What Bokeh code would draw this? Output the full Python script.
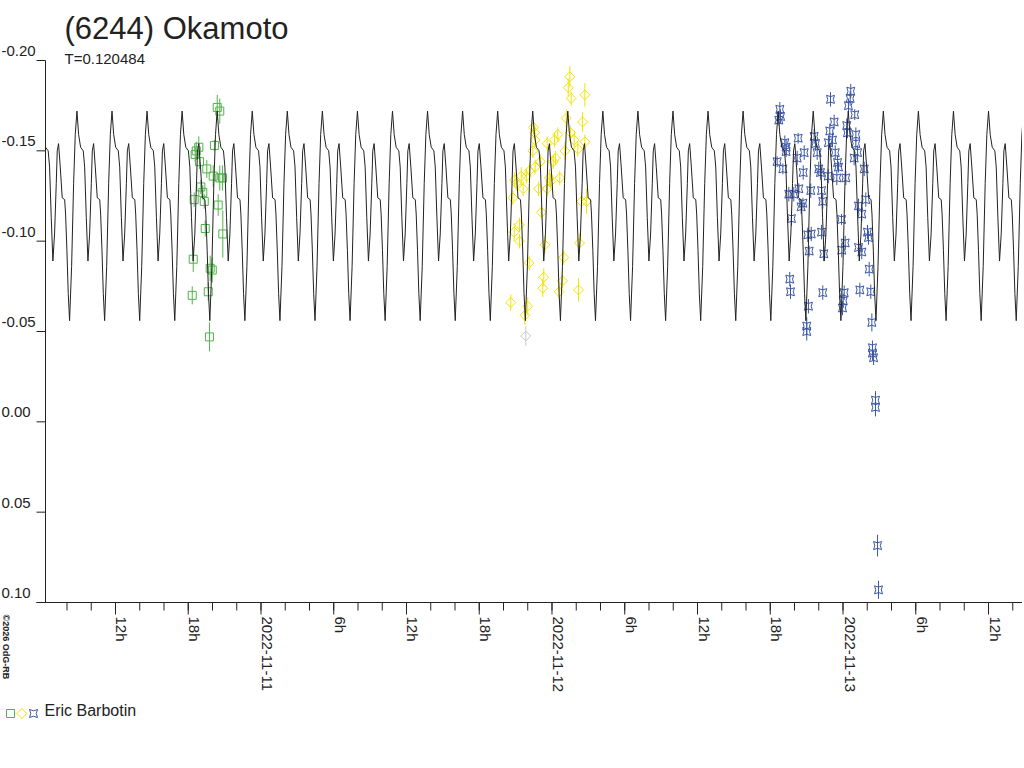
import math
import numpy as np
from bokeh.plotting import figure
from bokeh.models import Range1d, Label
from bokeh.embed import file_html
from bokeh.resources import INLINE

# times: hours since 2022-11-10 00:00 UT, values: relative magnitude
period_days = 0.120484
epoch_h = 8.82          # a main maximum of the model
t_left, t_right = 6.227, 86.804
mag_top, mag_bottom = -0.20, 0.10

# one cycle of the model lightcurve (phase, mag)
model_phase = [0.000, 0.048, 0.105, 0.180, 0.220, 0.267, 0.314, 0.362, 0.410, 0.438,
               0.476, 0.524, 0.580, 0.650, 0.676, 0.714, 0.752, 0.790, 0.848, 0.905, 0.952]
model_mag = [-0.172, -0.159, -0.152, -0.150, -0.141, -0.113, -0.089, -0.104, -0.132, -0.150,
             -0.154, -0.141, -0.124, -0.123, -0.115, -0.095, -0.071, -0.056, -0.086, -0.132, -0.159]

# night 1
green_t = [20.39, 20.60, 18.87, 18.66, 18.57, 20.16, 18.93, 19.53, 20.06, 20.60, 20.82, 19.04,
           19.20, 18.49, 19.32, 20.47, 19.40, 20.85, 18.41, 19.81, 19.98, 19.65, 18.33, 19.75]
green_mag = [-0.174, -0.172, -0.152, -0.150, -0.148, -0.153, -0.144, -0.140, -0.136, -0.135, -0.135, -0.130,
             -0.127, -0.123, -0.122, -0.120, -0.107, -0.104, -0.090, -0.085, -0.084, -0.072, -0.070, -0.047]
green_err = [0.007, 0.007, 0.006, 0.005, 0.004, 0.003, 0.004, 0.005, 0.006, 0.007, 0.007, 0.004,
             0.004, 0.004, 0.004, 0.006, 0.0045, 0.013, 0.007, 0.007, 0.007, 0.005, 0.005, 0.008]

# night 2
yellow_t = [49.47, 49.34, 49.58, 50.71, 49.17, 50.52, 46.47, 46.58, 49.53, 48.48, 46.61, 47.60, 48.21,
            49.83, 50.13, 50.71, 49.06, 46.42, 48.29, 48.10, 47.05, 46.61, 46.14, 45.90, 45.46, 44.93,
            47.79, 48.64, 47.88, 45.05, 45.62, 46.89, 47.60, 44.77, 50.43, 50.85, 47.13, 45.32, 44.88,
            45.32, 47.41, 50.27, 46.12, 48.97, 47.32, 48.87, 47.24, 50.19, 48.59, 44.60, 46.00, 45.76]
yellow_mag = [-0.191, -0.185, -0.179, -0.181, -0.168, -0.166, -0.163, -0.160, -0.160, -0.159, -0.156, -0.154, -0.156,
              -0.156, -0.151, -0.155, -0.150, -0.150, -0.146, -0.144, -0.144, -0.141, -0.139, -0.136, -0.136, -0.134,
              -0.135, -0.135, -0.133, -0.132, -0.129, -0.129, -0.129, -0.124, -0.122, -0.122, -0.116, -0.109, -0.105,
              -0.100, -0.098, -0.099, -0.088, -0.091, -0.080, -0.078, -0.074, -0.073, -0.072, -0.066, -0.064, -0.059]
yellow_err = [0.006, 0.005, 0.004, 0.0065, 0.005, 0.0055, 0.004, 0.004, 0.004, 0.004, 0.004, 0.004, 0.004,
              0.005, 0.004, 0.004, 0.005, 0.004, 0.004, 0.004, 0.004, 0.004, 0.004, 0.004, 0.005, 0.004,
              0.005, 0.004, 0.004, 0.004, 0.004, 0.004, 0.004, 0.004, 0.005, 0.007, 0.004, 0.004, 0.005,
              0.004, 0.005, 0.0055, 0.004, 0.004, 0.005, 0.004, 0.005, 0.0065, 0.004, 0.0045, 0.005, 0.0055]

# rejected point of night 2
grey_t = [45.84]
grey_mag = [-0.0475]
grey_err = [0.0055]

# night 3
blue_t = [66.79, 66.85, 66.71, 67.20, 67.31, 68.30, 69.62, 69.73, 67.31, 68.80,
          66.57, 68.22, 69.87, 67.04, 68.72, 70.00, 70.14, 68.36, 67.53, 67.94,
          69.34, 70.23, 68.69, 68.55, 70.33, 67.75, 69.10, 69.38, 70.23, 69.21,
          70.42, 67.61, 67.67, 70.33, 69.15, 69.01, 69.01,
          72.64, 70.97, 72.59, 72.45, 72.97, 71.27, 70.91, 72.31, 72.37, 73.06,
          70.80, 71.13, 73.06, 71.36, 73.20, 72.92, 71.55, 71.63, 73.75, 70.78,
          71.49, 72.23, 73.88, 73.28, 73.55, 71.88, 74.02, 74.10, 72.18, 73.28,
          71.90, 73.55, 74.16, 72.10, 73.39, 74.29, 72.02, 71.96, 74.38, 74.43,
          74.43, 74.52, 74.68, 74.68, 74.85, 74.93]
blue_mag = [-0.173, -0.169, -0.167, -0.1545, -0.152, -0.157, -0.158, -0.154, -0.1496, -0.149,
            -0.144, -0.146, -0.149, -0.140, -0.138, -0.140, -0.138, -0.129, -0.126, -0.126,
            -0.128, -0.128, -0.121, -0.119, -0.122, -0.1125, -0.1035, -0.104, -0.105, -0.0945,
            -0.093, -0.079, -0.072, -0.0715, -0.064, -0.053, -0.050,
            -0.183, -0.1785, -0.179, -0.175, -0.170, -0.166, -0.161, -0.164, -0.160, -0.159,
            -0.1545, -0.156, -0.154, -0.149, -0.149, -0.146, -0.1435, -0.141, -0.140, -0.136,
            -0.135, -0.135, -0.123, -0.1195, -0.115, -0.112, -0.105, -0.102, -0.099, -0.0965,
            -0.095, -0.094, -0.0845, -0.0715, -0.073, -0.072, -0.067, -0.063, -0.055, -0.041,
            -0.038, -0.0355, -0.012, -0.008, 0.0685, 0.093]
blue_err = [0.004, 0.004, 0.003, 0.004, 0.004, 0.003, 0.004, 0.004, 0.003, 0.004,
            0.003, 0.004, 0.004, 0.003, 0.004, 0.004, 0.004, 0.003, 0.004, 0.004,
            0.004, 0.004, 0.003, 0.004, 0.004, 0.004, 0.004, 0.004, 0.004, 0.003,
            0.004, 0.004, 0.004, 0.004, 0.004, 0.005, 0.005,
            0.004, 0.004, 0.004, 0.004, 0.003, 0.004, 0.004, 0.004, 0.003, 0.004,
            0.004, 0.004, 0.003, 0.004, 0.004, 0.004, 0.004, 0.003, 0.004, 0.004,
            0.004, 0.004, 0.004, 0.004, 0.004, 0.003, 0.004, 0.004, 0.004, 0.004,
            0.004, 0.004, 0.004, 0.004, 0.004, 0.004, 0.004, 0.004, 0.005, 0.004,
            0.004, 0.004, 0.005, 0.005, 0.006, 0.005]

x_ticks = [12, 18, 24, 30, 36, 42, 48, 54, 60, 66, 72, 78, 84]
x_tick_labels = ["12h", "18h", "2022-11-11", "6h", "12h", "18h", "2022-11-12",
                 "6h", "12h", "18h", "2022-11-13", "6h", "12h"]
x_minor = list(range(8, 88, 2))
y_ticks = [-0.20, -0.15, -0.10, -0.05, 0.00, 0.05, 0.10]
y_tick_labels = ["-0.20", "-0.15", "-0.10", "-0.05", "0.00", "0.05", "0.10"]

FONT = "Liberation Sans"
TXT = "#222222"
C_GREEN = "#4fb548"
C_YELLOW = "#f2e400"
C_BLUE = "#3a56a8"
C_GREY = "#c8c8c8"

# page layout: plot area spans px 45..1022 horizontally, 60..602 vertically
W, H = 1022, 740
PX_L, PX_R, PX_T, PX_B = 45, 1022, 60, 602


def tx(px):
    return t_left + (px - PX_L) * (t_right - t_left) / (PX_R - PX_L)


def my(py):
    return mag_top + (py - PX_T) * (mag_bottom - mag_top) / (PX_B - PX_T)


p = figure(width=W, height=H,
           x_range=Range1d(tx(0), tx(W)), y_range=Range1d(my(H), my(0)),
           output_backend="svg", toolbar_location=None, min_border=0,
           x_axis_type=None, y_axis_type=None)
p.grid.visible = False
p.outline_line_color = None
p.background_fill_color = "white"
p.border_fill_color = "white"


def errbars(t, m, e, color):
    t = np.array(t)
    m = np.array(m)
    e = np.array(e)
    p.segment(x0=t, y0=m - e, x1=t, y1=m + e, line_color=color, line_width=1)


errbars(green_t, green_mag, green_err, C_GREEN)
p.scatter(green_t, green_mag, marker="square", size=8, fill_color=None,
          line_color=C_GREEN, line_width=1)

errbars(grey_t, grey_mag, grey_err, C_GREY)
p.scatter(grey_t, grey_mag, marker="square", angle=math.pi / 4, size=7, fill_color=None,
          line_color=C_GREY, line_width=1)

errbars(yellow_t, yellow_mag, yellow_err, C_YELLOW)
p.scatter(yellow_t, yellow_mag, marker="square", angle=math.pi / 4, size=7, fill_color=None,
          line_color=C_YELLOW, line_width=1)

errbars(blue_t, blue_mag, blue_err, C_BLUE)
p.scatter(blue_t, blue_mag, marker="square_pin", size=8, fill_color=None,
          line_color=C_BLUE, line_width=1)

# model curve, repeated with the period and cut at the plot edges
period_h = period_days * 24
n0 = int(np.floor((t_left - epoch_h) / period_h)) - 1
n1 = int(np.ceil((t_right - epoch_h) / period_h)) + 1
curve_t, curve_m = [], []
for n in range(n0, n1 + 1):
    for ph, mg in zip(model_phase, model_mag):
        curve_t.append(epoch_h + (n + ph) * period_h)
        curve_m.append(mg)
curve_t = np.array(curve_t)
curve_m = np.array(curve_m)
inside = (curve_t > t_left) & (curve_t < t_right)
ct = np.concatenate([[t_left], curve_t[inside], [t_right]])
cm = np.concatenate([[np.interp(t_left, curve_t, curve_m)], curve_m[inside],
                     [np.interp(t_right, curve_t, curve_m)]])
p.line(ct, cm, line_color=TXT, line_width=1)

# axes
p.segment(x0=[t_left], y0=[mag_top], x1=[t_left], y1=[mag_bottom], line_color=TXT, line_width=1)
p.segment(x0=[tx(36)], y0=[mag_bottom], x1=[t_right], y1=[mag_bottom], line_color=TXT, line_width=1)
p.segment(x0=[tx(36)] * len(y_ticks), y0=y_ticks, x1=[t_left] * len(y_ticks), y1=y_ticks,
          line_color=TXT, line_width=1)
p.segment(x0=x_ticks, y0=[mag_bottom] * len(x_ticks), x1=x_ticks, y1=[my(614)] * len(x_ticks),
          line_color=TXT, line_width=1)
p.segment(x0=x_minor, y0=[mag_bottom] * len(x_minor), x1=x_minor, y1=[my(610)] * len(x_minor),
          line_color=TXT, line_width=1)

# tick labels (text drawn about 0.45 em below the anchor, hence the offsets)
for v, s in zip(y_ticks, y_tick_labels):
    p.add_layout(Label(x=tx(1), y=v, y_offset=9.5, text=s,
                       text_align="left", text_baseline="alphabetic",
                       text_font=FONT, text_font_size="15px", text_color=TXT))
for v, s in zip(x_ticks, x_tick_labels):
    p.add_layout(Label(x=v, y=my(616), x_offset=6.5, angle=-math.pi / 2, text=s,
                       text_align="left", text_baseline="alphabetic",
                       text_font=FONT, text_font_size="15px", text_color=TXT))

p.add_layout(Label(x=tx(64), y=my(27.5), text="(6244) Okamoto",
                   text_align="left", text_baseline="alphabetic",
                   text_font=FONT, text_font_size="31px", text_color=TXT))
p.add_layout(Label(x=tx(64), y=my(57.5), text="T=0.120484",
                   text_align="left", text_baseline="alphabetic",
                   text_font=FONT, text_font_size="15px", text_color=TXT))
p.add_layout(Label(x=tx(5), y=my(614), angle=-math.pi / 2,
                   text="\u00a92026 OdG-RB", text_align="left", text_baseline="alphabetic",
                   text_font=FONT, text_font_size="9px", text_font_style="bold", text_color=TXT))

# legend
p.scatter([tx(10)], [my(713)], marker="square", size=8, fill_color=None, line_color=C_GREEN)
p.scatter([tx(21.3)], [my(713)], marker="square", angle=math.pi / 4, size=7, fill_color=None,
          line_color=C_YELLOW)
p.scatter([tx(33)], [my(713)], marker="square_pin", size=8, fill_color=None, line_color=C_BLUE)
p.add_layout(Label(x=tx(44), y=my(710), text="Eric Barbotin", text_align="left",
                   text_baseline="alphabetic", text_font=FONT, text_font_size="16px",
                   text_color=TXT))

open("out.html", "w").write(file_html(p, INLINE))
